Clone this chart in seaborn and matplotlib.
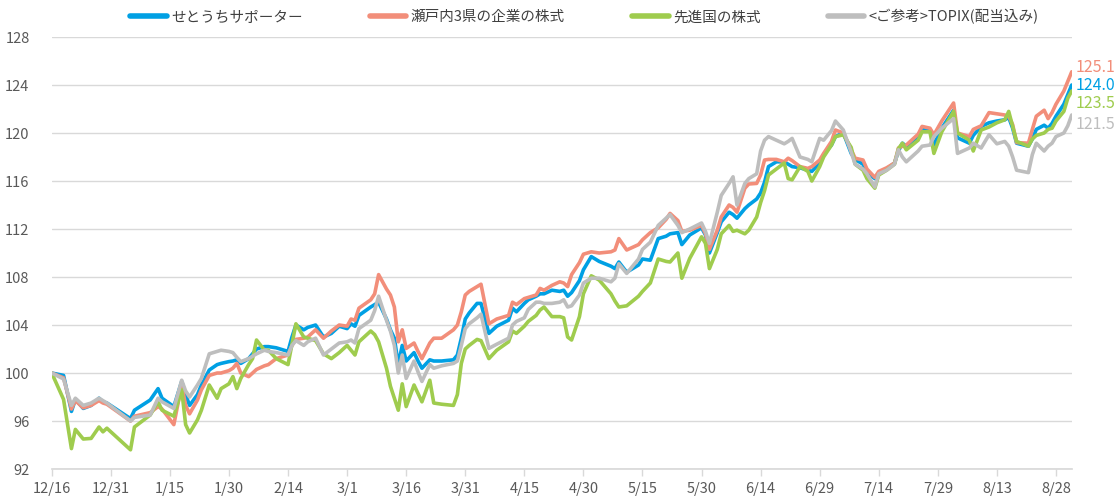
import pandas as pd
import matplotlib.pyplot as plt
import matplotlib.dates as mdates
import seaborn as sns

# data (index, start = 100)
dates = [
    "2022-12-16", "2022-12-19", "2022-12-21", "2022-12-22", "2022-12-24", "2022-12-26", "2022-12-28", "2022-12-29", "2022-12-30", "2023-01-05",
    "2023-01-06", "2023-01-10", "2023-01-12", "2023-01-13", "2023-01-16", "2023-01-18", "2023-01-19", "2023-01-20", "2023-01-22", "2023-01-23",
    "2023-01-25", "2023-01-27", "2023-01-28", "2023-01-30", "2023-01-31", "2023-02-01", "2023-02-02", "2023-02-04", "2023-02-05", "2023-02-06",
    "2023-02-08", "2023-02-09", "2023-02-11", "2023-02-14", "2023-02-15", "2023-02-16", "2023-02-18", "2023-02-19", "2023-02-21", "2023-02-23",
    "2023-02-25", "2023-02-27", "2023-03-01", "2023-03-02", "2023-03-03", "2023-03-04", "2023-03-07", "2023-03-08", "2023-03-09", "2023-03-11",
    "2023-03-12", "2023-03-13", "2023-03-14", "2023-03-15", "2023-03-16", "2023-03-18", "2023-03-19", "2023-03-20", "2023-03-22", "2023-03-23",
    "2023-03-25", "2023-03-28", "2023-03-29", "2023-03-30", "2023-03-31", "2023-04-01", "2023-04-03", "2023-04-04", "2023-04-06", "2023-04-08",
    "2023-04-11", "2023-04-12", "2023-04-13", "2023-04-15", "2023-04-16", "2023-04-18", "2023-04-19", "2023-04-20", "2023-04-22", "2023-04-24",
    "2023-04-25", "2023-04-26", "2023-04-27", "2023-04-29", "2023-04-30", "2023-05-02", "2023-05-04", "2023-05-07", "2023-05-08", "2023-05-09",
    "2023-05-11", "2023-05-14", "2023-05-15", "2023-05-17", "2023-05-19", "2023-05-21", "2023-05-22", "2023-05-24", "2023-05-25", "2023-05-27",
    "2023-05-30", "2023-05-31", "2023-06-01", "2023-06-03", "2023-06-04", "2023-06-06", "2023-06-07", "2023-06-08", "2023-06-10", "2023-06-11",
    "2023-06-13", "2023-06-14", "2023-06-15", "2023-06-16", "2023-06-18", "2023-06-20", "2023-06-21", "2023-06-22", "2023-06-24", "2023-06-26",
    "2023-06-27", "2023-06-29", "2023-06-30", "2023-07-02", "2023-07-03", "2023-07-05", "2023-07-07", "2023-07-08", "2023-07-10", "2023-07-11",
    "2023-07-13", "2023-07-14", "2023-07-16", "2023-07-18", "2023-07-19", "2023-07-20", "2023-07-21", "2023-07-24", "2023-07-25", "2023-07-27",
    "2023-07-28", "2023-07-30", "2023-08-02", "2023-08-03", "2023-08-06", "2023-08-07", "2023-08-09", "2023-08-11", "2023-08-13", "2023-08-15",
    "2023-08-16", "2023-08-17", "2023-08-18", "2023-08-21", "2023-08-22", "2023-08-23", "2023-08-25", "2023-08-26", "2023-08-27", "2023-08-28",
    "2023-08-30", "2023-08-31", "2023-09-01",
]

setouchi = [
    100, 99.8, 96.8, 97.8, 97.05, 97.3, 97.9, 97.6, 97.5, 96.2,
    96.9, 97.75, 98.7, 97.9, 97.2, 99.3, 98.2, 97.3, 98.2, 99.0,
    100.25, 100.7, 100.8, 100.95, 101.0, 101.1, 100.8, 101.2, 101.6, 102.0,
    102.2, 102.2, 102.1, 101.8, 103.0, 104.0, 103.6, 103.8, 104.0, 103.0,
    103.3, 103.9, 103.7, 104.1, 103.9, 104.8, 105.5, 105.7, 105.9, 104.5,
    103.6, 102.9, 100.7, 102.3, 101.0, 101.7, 101.0, 100.4, 101.1, 101.0,
    101.0, 101.1, 101.5, 102.9, 104.5, 105.0, 105.8, 105.8, 103.3, 103.9,
    104.4, 105.4, 105.1, 105.8, 106.1, 106.4, 106.6, 106.6, 106.9, 106.8,
    106.9, 106.4, 106.7, 107.7, 108.6, 109.7, 109.3, 108.9, 108.7, 109.25,
    108.4, 109.0, 109.5, 109.4, 111.2, 111.4, 111.6, 111.7, 110.7, 111.5,
    112.1, 111.5, 110.0, 111.7, 112.6, 113.4, 113.2, 112.9, 113.7, 114.0,
    114.5, 115.0, 115.9, 117.2, 117.6, 117.6, 117.4, 117.2, 117.1, 116.9,
    116.8, 117.5, 118.2, 119.0, 119.7, 120.0, 118.3, 117.8, 117.4, 116.7,
    116.2, 116.7, 117.0, 117.5, 118.5, 119.15, 118.9, 119.6, 120.4, 120.25,
    119.0, 120.4, 121.9, 119.6, 119.15, 119.8, 120.55, 120.85, 121.0, 121.1,
    121.3, 120.4, 119.15, 118.9, 119.5, 120.3, 120.65, 120.4, 120.8, 121.4,
    122.4, 123.2, 124.0,
]

seto3 = [
    100, 99.6, 97.0, 97.7, 97.1, 97.3, 97.7, 97.5, 97.4, 96.0,
    96.4, 96.7, 97.2, 97.0, 95.7, 99.0, 97.3, 96.6, 97.75, 98.6,
    99.8, 100.0, 100.0, 100.2, 100.4, 100.8, 100.0, 99.7, 100.0, 100.3,
    100.6, 100.7, 101.2, 101.5, 102.3, 102.8, 102.9, 103.0, 103.6, 102.9,
    103.5, 104.0, 103.9, 104.5, 104.4, 105.4, 106.1, 106.6, 108.2, 107.0,
    106.5, 105.5, 102.6, 103.6, 102.05, 102.5, 101.8, 101.2, 102.5, 102.9,
    102.9, 103.6, 104.0, 105.1, 106.5, 106.8, 107.2, 107.4, 104.1, 104.5,
    104.8, 105.9, 105.7, 106.2, 106.3, 106.5, 107.05, 106.9, 107.3, 107.6,
    107.5, 107.2, 108.2, 109.2, 109.9, 110.1, 110.0, 110.1, 110.25, 111.2,
    110.25, 110.7, 111.1, 111.7, 112.1, 112.8, 113.3, 112.7, 111.8, 111.9,
    112.3, 111.6, 110.3, 111.9, 113.0, 114.0, 113.8, 113.4, 115.4, 115.75,
    115.8, 116.5, 117.75, 117.8, 117.8, 117.6, 117.9, 117.7, 117.2, 117.05,
    117.2, 117.75, 118.3, 119.3, 120.25, 120.0, 118.6, 117.9, 117.75, 117.0,
    116.3, 116.8, 117.1, 117.5, 118.75, 118.9, 119.0, 119.9, 120.55, 120.4,
    119.85, 121.0, 122.5, 120.0, 119.7, 120.3, 120.6, 121.7, 121.6, 121.5,
    121.4, 120.7, 119.2, 119.15, 120.3, 121.4, 121.9, 121.2, 121.7, 122.4,
    123.5, 124.3, 125.1,
]

world = [
    100, 97.8, 93.7, 95.3, 94.5, 94.55, 95.5, 95.1, 95.4, 93.6,
    95.5, 96.5, 97.6, 96.9, 96.4, 98.6, 95.7, 95.0, 96.1, 96.9,
    99.0, 97.9, 98.7, 99.1, 99.7, 98.7, 99.55, 100.7, 101.2, 102.75,
    101.9, 101.9, 101.2, 100.7, 102.4, 104.1, 103.0, 102.9, 102.7, 101.6,
    101.2, 101.7, 102.3, 101.9, 101.5, 102.6, 103.5, 103.2, 102.6, 100.4,
    98.9, 97.9, 96.9, 99.1, 97.2, 99.0, 98.3, 97.6, 99.4, 97.5,
    97.4, 97.3, 98.2, 100.8, 102.0, 102.3, 102.8, 102.7, 101.2, 101.9,
    102.6, 103.5, 103.3, 103.9, 104.3, 104.8, 105.25, 105.5, 104.7, 104.7,
    104.6, 103.0, 102.75, 104.7, 106.6, 108.1, 107.75, 106.6, 106.0, 105.5,
    105.6, 106.4, 106.8, 107.5, 109.5, 109.3, 109.25, 110.0, 107.9, 109.55,
    111.35, 110.8, 108.7, 110.3, 111.6, 112.3, 111.8, 111.9, 111.6, 111.9,
    113.0, 114.2, 115.2, 116.5, 117.0, 117.5, 116.2, 116.1, 117.2, 116.8,
    116.0, 117.2, 118.0, 119.0, 119.7, 119.85, 118.8, 117.4, 116.9, 116.2,
    115.4, 116.5, 116.9, 117.4, 118.7, 119.15, 118.6, 119.4, 120.1, 120.1,
    118.3, 120.1, 121.8, 120.0, 119.4, 118.5, 120.25, 120.5, 120.85, 121.1,
    121.8, 120.55, 119.3, 118.9, 119.5, 119.8, 120.0, 120.3, 120.4, 121.0,
    121.8, 122.9, 123.5,
]

topix = [
    100, 99.5, 97.3, 97.9, 97.3, 97.5, 97.9, 97.7, 97.5, 96.0,
    96.3, 96.5, 97.9, 97.6, 97.05, 99.4, 98.5, 98.0, 99.0, 99.55,
    101.6, 101.8, 101.9, 101.8, 101.7, 101.3, 100.95, 101.2, 101.4, 101.6,
    101.9, 101.8, 101.7, 101.5, 102.3, 102.7, 102.3, 102.6, 102.9, 101.5,
    102.0, 102.5, 102.6, 102.75, 102.5, 103.7, 104.4, 105.2, 106.4, 104.4,
    103.5, 102.3, 100.0, 101.5, 99.55, 101.0, 100.1, 99.3, 100.7, 100.4,
    100.6, 100.8, 101.0, 102.3, 103.7, 104.1, 104.6, 104.9, 102.05, 102.4,
    102.9, 104.0, 104.3, 104.6, 105.3, 105.9, 105.9, 105.8, 105.8, 105.9,
    106.1, 105.5, 105.6, 106.5, 107.5, 107.9, 107.9, 107.6, 107.9, 109.1,
    108.3, 109.5, 110.3, 110.9, 112.3, 112.9, 113.2, 112.3, 111.7, 112.0,
    112.5, 111.8, 110.8, 113.4, 114.8, 115.8, 116.35, 114.0, 115.8, 116.2,
    116.6, 118.5, 119.4, 119.7, 119.4, 119.1, 119.3, 119.55, 118.0, 117.8,
    117.6, 119.55, 119.4, 120.2, 121.0, 120.25, 118.4, 117.4, 117.0, 116.6,
    115.5, 116.6, 116.9, 117.4, 118.6, 118.0, 117.6, 118.5, 118.9, 119.0,
    119.7, 120.4, 121.2, 118.3, 118.75, 119.15, 118.75, 119.85, 119.1, 119.3,
    118.9, 118.0, 116.9, 116.7, 118.2, 119.15, 118.5, 118.9, 119.15, 119.7,
    120.0, 120.6, 121.5,
]

series_names = ["せとうちサポーター", "瀬戸内3県の企業の株式", "先進国の株式", "<ご参考>TOPIX(配当込み)"]
colors = ["#00A0E4", "#F28E7A", "#9FCC4E", "#BEBEBE"]
end_labels = ["124.0", "125.1", "123.5", "121.5"]
xtick_dates = ["2022-12-16", "2022-12-31", "2023-01-15", "2023-01-30", "2023-02-14", "2023-03-01",
               "2023-03-16", "2023-03-31", "2023-04-15", "2023-04-30", "2023-05-15", "2023-05-30",
               "2023-06-14", "2023-06-29", "2023-07-14", "2023-07-29", "2023-08-13", "2023-08-28"]
yticks = [92, 96, 100, 104, 108, 112, 116, 120, 124, 128]

df = pd.DataFrame({"date": pd.to_datetime(dates)})
for name, vals in zip(series_names, [setouchi, seto3, world, topix]):
    df[name] = vals
long_df = df.melt(id_vars="date", var_name="series", value_name="value")

sns.set_theme(style="white")
plt.rcParams["font.family"] = ["Noto Sans CJK JP", "DejaVu Sans"]

fig = plt.figure(figsize=(11.2, 4.96), dpi=100)
ax = fig.add_axes([0.0462, 0.0544, 0.9107, 0.871])

sns.lineplot(data=long_df, x="date", y="value", hue="series", hue_order=series_names,
             palette=dict(zip(series_names, colors)), estimator=None, linewidth=2.6, ax=ax)

ax.set_xlim(pd.Timestamp("2022-12-16"), pd.Timestamp("2023-09-01"))
ax.set_ylim(92, 128)
ax.set_yticks(yticks)
ax.set_xticks(pd.to_datetime(xtick_dates))
ax.xaxis.set_major_formatter(mdates.DateFormatter("%-m/%-d"))
ax.grid(axis="y", color="#D9D9D9", linewidth=1)
ax.set_axisbelow(True)
ax.set_xlabel("")
ax.set_ylabel("")
for s in ["left", "right", "top"]:
    ax.spines[s].set_visible(False)
ax.spines["bottom"].set_color("#D9D9D9")
ax.tick_params(axis="x", colors="#595959", labelsize=10.5, length=5, width=1, direction="out",
               color="#D9D9D9", pad=4, bottom=True)
ax.tick_params(axis="y", colors="#595959", labelsize=10.5, length=0, pad=16)

# end-value labels at the right edge
label_y = [124.0, 125.5, 122.5, 120.75]
for txt, yv, c in zip(end_labels, label_y, colors):
    ax.text(1.004, yv, txt, color=c, fontsize=11.5, va="center", ha="left",
            transform=ax.get_yaxis_transform())

handles, labels = ax.get_legend_handles_labels()
ax.get_legend().remove()
fig.legend(handles, labels, loc="center", bbox_to_anchor=(0.522, 0.966), ncol=4, frameon=False,
           fontsize=10.5, handlelength=2.5, handletextpad=0.3, columnspacing=4.6,
           labelcolor="#404040")
for h in fig.legends[0].get_lines():
    h.set_linewidth(4)

fig.savefig("out.png", dpi=100)
